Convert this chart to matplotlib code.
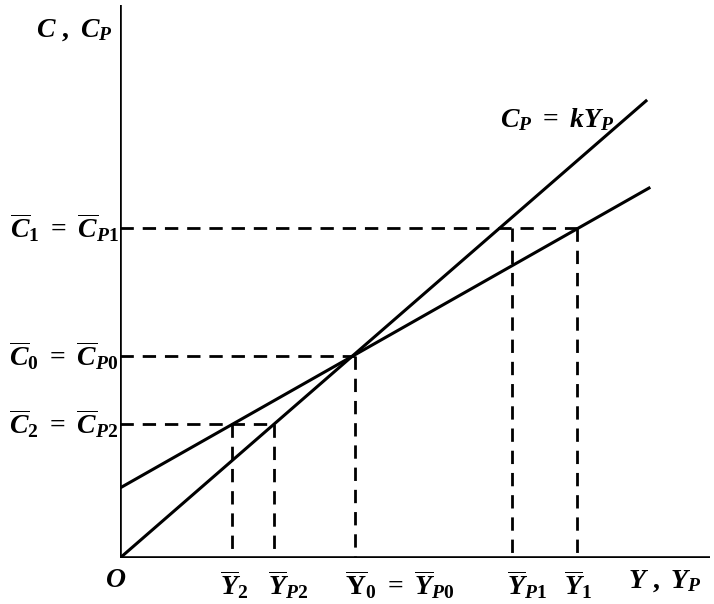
import numpy as np
import matplotlib
matplotlib.use('Agg')
import matplotlib.pyplot as plt

plt.rcParams['mathtext.fontset'] = 'custom'
plt.rcParams['mathtext.it'] = 'Liberation Serif:italic:bold'
plt.rcParams['mathtext.rm'] = 'Liberation Serif:bold'
plt.rcParams['mathtext.bf'] = 'Liberation Serif:bold'
plt.rcParams['font.family'] = 'Liberation Serif'

## lines: C = a + bY (short run), Cp = kYp (long run) ##
a_short = 70
b_short = 0.567
k_long = 0.869
x_end_short = 529
x_end_long = 526

## equilibrium levels ##
C_levels = [330, 202, 134]          # C1, C0, C2
Y_short = [457, 235, 112]           # Y1, Y0, Y2
Y_long = [392, 235, 154]            # YP1, YP0, YP2

C_labels = [r'$\overline{C}_1\ =\ \overline{C}_{P1}$',
            r'$\overline{C}_0\ =\ \overline{C}_{P0}$',
            r'$\overline{C}_2\ =\ \overline{C}_{P2}$']
Y_labels = [r'$\overline{Y}_1$', r'$\overline{Y}_{P1}$',
            r'$\overline{Y}_2$', r'$\overline{Y}_{P2}$',
            r'$\overline{\mathrm{Y}}_0\ =\ \overline{Y}_{P0}$']
Y_label_pos = [458, 407, 114, 168, 280]

W, H = 714, 604
fig = plt.figure(figsize=(W/100, H/100), dpi=100)
ox, oy = 120, 558
ax = fig.add_axes([ox/W, (H-oy)/H, (W-ox)/W, oy/H])
ax.set_xlim(0, W-ox)
ax.set_ylim(0, oy)
ax.axis('off')

# axes
ax.plot([0, 0], [0, 553], color='black', lw=2.6, solid_capstyle='butt')
ax.plot([0, 590], [0, 0], color='black', lw=2.6, solid_capstyle='butt')

# lines
xs = np.array([0, x_end_short])
ax.plot(xs, a_short + b_short*xs, color='black', lw=2.2)
xl = np.array([0, x_end_long])
ax.plot(xl, k_long*xl, color='black', lw=2.2)

# dashed guides
dash = dict(color='black', lw=2.0, linestyle=(0, (4.8, 3.2)))
c1, c0, c2 = C_levels
ax.plot([0, Y_short[0]], [c1, c1], **dash)
ax.plot([Y_short[0], Y_short[0]], [c1, 0], **dash)
ax.plot([Y_long[0], Y_long[0]], [c1, 0], **dash)
ax.plot([0, Y_short[1]], [c0, c0], **dash)
ax.plot([Y_short[1], Y_short[1]], [c0, 0], **dash)
ax.plot([0, Y_long[2]], [c2, c2], **dash)
ax.plot([Y_short[2], Y_short[2]], [c2, 0], **dash)
ax.plot([Y_long[2], Y_long[2]], [c2, 0], **dash)

fs = 20
for lvl, lab in zip(C_levels, C_labels):
    ax.text(-1, lvl, lab, ha='right', va='center', fontsize=fs, clip_on=False)
for xp, lab in zip(Y_label_pos, Y_labels):
    ax.text(xp, -10, lab, ha='center', va='top', fontsize=fs, clip_on=False)
ax.text(-4, -10, r'$O$', ha='center', va='top', fontsize=fs, clip_on=False)
ax.text(545, -10, r'$Y\ ,\ Y_P$', ha='center', va='top', fontsize=fs, clip_on=False)
ax.text(-46, 528, r'$C\ ,\ C_P$', ha='center', va='center', fontsize=fs, clip_on=False)
ax.text(380, 438, r'$C_P\ =\ kY_P$', ha='left', va='center', fontsize=fs)

fig.savefig('out.png', dpi=100, facecolor='white')
